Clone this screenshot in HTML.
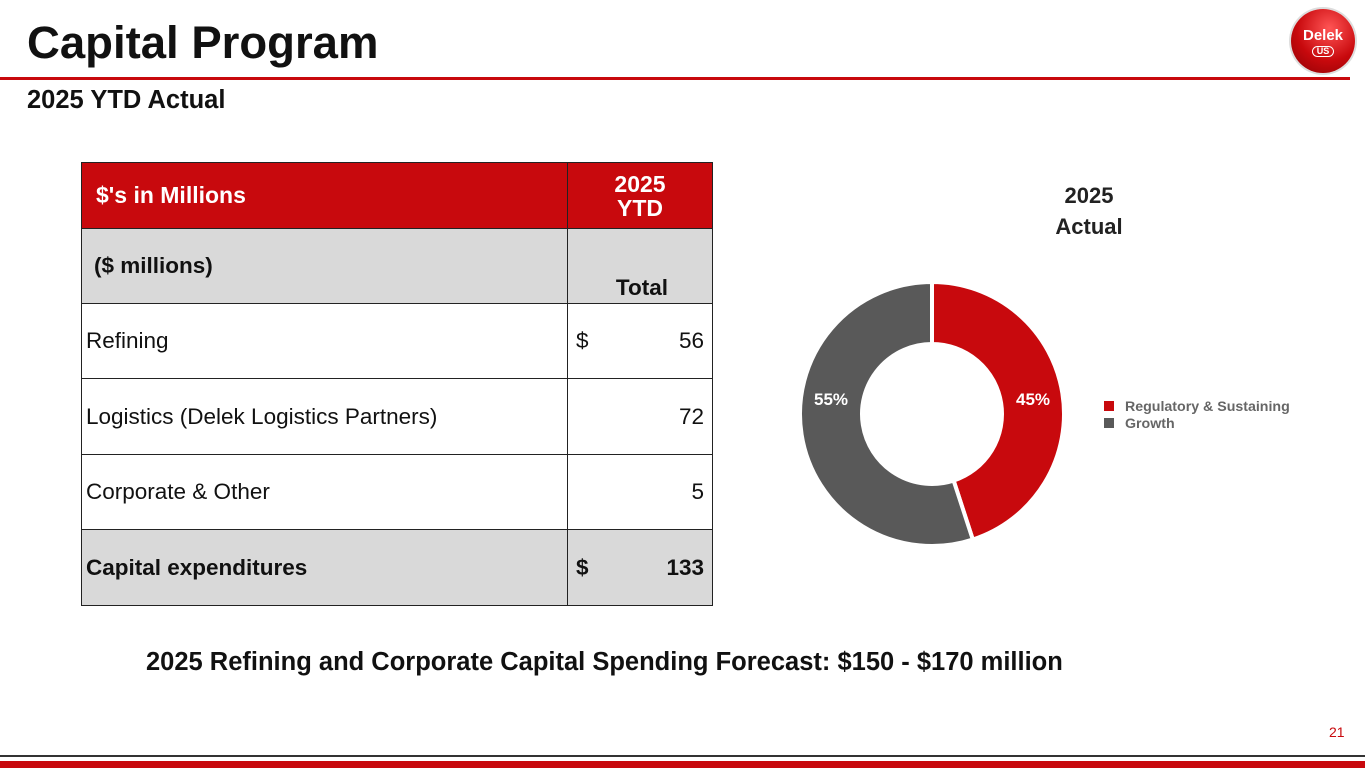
<!DOCTYPE html>
<html><head><meta charset="utf-8"><style>
body{margin:0;width:1365px;height:768px;position:relative;background:#fff;font-family:"Liberation Sans",Arial,sans-serif;overflow:hidden}
.abs{position:absolute}
table{position:absolute;left:81px;top:162px;border-collapse:collapse;width:631px;table-layout:fixed}
td{border:1.5px solid #222;font-size:22.5px;color:#111;padding:0 8px;white-space:nowrap}
</style></head><body>
<div class="abs" style="left:27px;top:17px;font-size:45.5px;font-weight:bold;color:#111">Capital Program</div>
<div class="abs" style="left:0;top:77px;width:1350px;height:3px;background:#c8090d"></div>
<div class="abs" style="left:27px;top:86px;font-size:25.5px;font-weight:bold;color:#111">2025 YTD Actual</div>
<div class="abs" style="left:1291px;top:9px;width:64px;height:64px;border-radius:50%;background:radial-gradient(circle at 60% 30%,#f55,#c8090d 55%,#8a0004);box-shadow:0 0 0 2px #ddd;color:#fff;font-weight:bold;font-size:15px;text-align:center;line-height:14px"><div style="margin-top:20px">Delek</div><div style="font-size:9px;margin:3px auto 0;width:20px;border:1.5px solid #fff;border-radius:6px;line-height:9px">US</div></div>
<table>
<colgroup><col style="width:486px"><col style="width:145px"></colgroup>
<tr style="height:66px;background:#c8090d;color:#fff;font-weight:bold"><td style="color:#fff;padding-left:14px;font-size:23px">$'s in Millions</td><td style="color:#fff;text-align:center;line-height:24px;font-size:23px">2025<br>YTD</td></tr>
<tr style="height:75px;background:#d9d9d9;font-weight:bold"><td style="padding-left:12px">($ millions)</td><td style="text-align:right;vertical-align:bottom;padding-bottom:2px;padding-right:44px">Total</td></tr>
<tr style="height:75px"><td style="padding-left:4px">Refining</td><td><span>$</span><span style="float:right">56</span></td></tr>
<tr style="height:76px"><td style="padding-left:4px">Logistics (Delek Logistics Partners)</td><td style="text-align:right">72</td></tr>
<tr style="height:75px"><td style="padding-left:4px">Corporate &amp; Other</td><td style="text-align:right">5</td></tr>
<tr style="height:76px;background:#d9d9d9;font-weight:bold"><td style="padding-left:4px">Capital expenditures</td><td><span>$</span><span style="float:right">133</span></td></tr>
</table>
<div class="abs" style="left:146px;top:648px;font-size:25.5px;font-weight:bold;color:#111;white-space:nowrap">2025 Refining and Corporate Capital Spending Forecast: $150 - $170 million</div>
<svg id="chart" class="abs" style="left:0;top:0" width="1365" height="768">
<text x="1089" y="203" text-anchor="middle" font-size="22" font-weight="bold" fill="#222">2025</text>
<text x="1089" y="234" text-anchor="middle" font-size="22" font-weight="bold" fill="#222">Actual</text>
</svg>
<div class="abs" style="left:1329px;top:724px;font-size:14px;color:#c8090d">21</div>
<div class="abs" style="left:0;top:755px;width:1365px;height:2px;background:#333"></div>
<div class="abs" style="left:0;top:761px;width:1365px;height:7px;background:#c8090d"></div>
<script>
const categories=["Regulatory & Sustaining","Growth"];
const values=[45,55];
const colors=["#c8090d","#595959"];
const svg=document.getElementById('chart');const NS="http://www.w3.org/2000/svg";
const cx=932,cy=414,R=132,r=70;
const total=values.reduce((a,b)=>a+b,0);
let a0=0;
values.forEach((v,i)=>{
  const a1=a0+v/total*2*Math.PI;
  const pt=(rad,a)=>[cx+rad*Math.sin(a),cy-rad*Math.cos(a)];
  const large=(a1-a0)>Math.PI?1:0;
  const [x1,y1]=pt(R,a0),[x2,y2]=pt(R,a1),[x3,y3]=pt(r,a1),[x4,y4]=pt(r,a0);
  const p=document.createElementNS(NS,'path');
  p.setAttribute('d',`M${x1},${y1}A${R},${R} 0 ${large} 1 ${x2},${y2}L${x3},${y3}A${r},${r} 0 ${large} 0 ${x4},${y4}Z`);
  p.setAttribute('fill',colors[i]);p.setAttribute('stroke','#fff');p.setAttribute('stroke-width','4');
  
  
  svg.appendChild(p);
  const am=(a0+a1)/2;
  const side=Math.sin(am)>=0?1:-1;
  const lx=cx+side*(R+r)/2, ly=cy-15;
  const t=document.createElementNS(NS,'text');
  t.setAttribute('x',lx);t.setAttribute('y',ly+6);t.setAttribute('text-anchor','middle');
  t.setAttribute('font-size','17');t.setAttribute('font-weight','bold');t.setAttribute('fill','#fff');
  t.textContent=v+'%';
  
  
  svg.appendChild(t);
  const sq=document.createElementNS(NS,'rect');
  sq.setAttribute('x',1104);sq.setAttribute('y',401+i*17);sq.setAttribute('width',10);sq.setAttribute('height',10);sq.setAttribute('fill',colors[i]);
  
  
  svg.appendChild(sq);
  const lt=document.createElementNS(NS,'text');
  lt.setAttribute('x',1125);lt.setAttribute('y',411+i*17);lt.setAttribute('font-size','14.2');lt.setAttribute('font-weight','bold');lt.setAttribute('fill','#666');
  lt.textContent=categories[i];
  
  
  svg.appendChild(lt);
  a0=a1;
});
</script>
</body></html>
